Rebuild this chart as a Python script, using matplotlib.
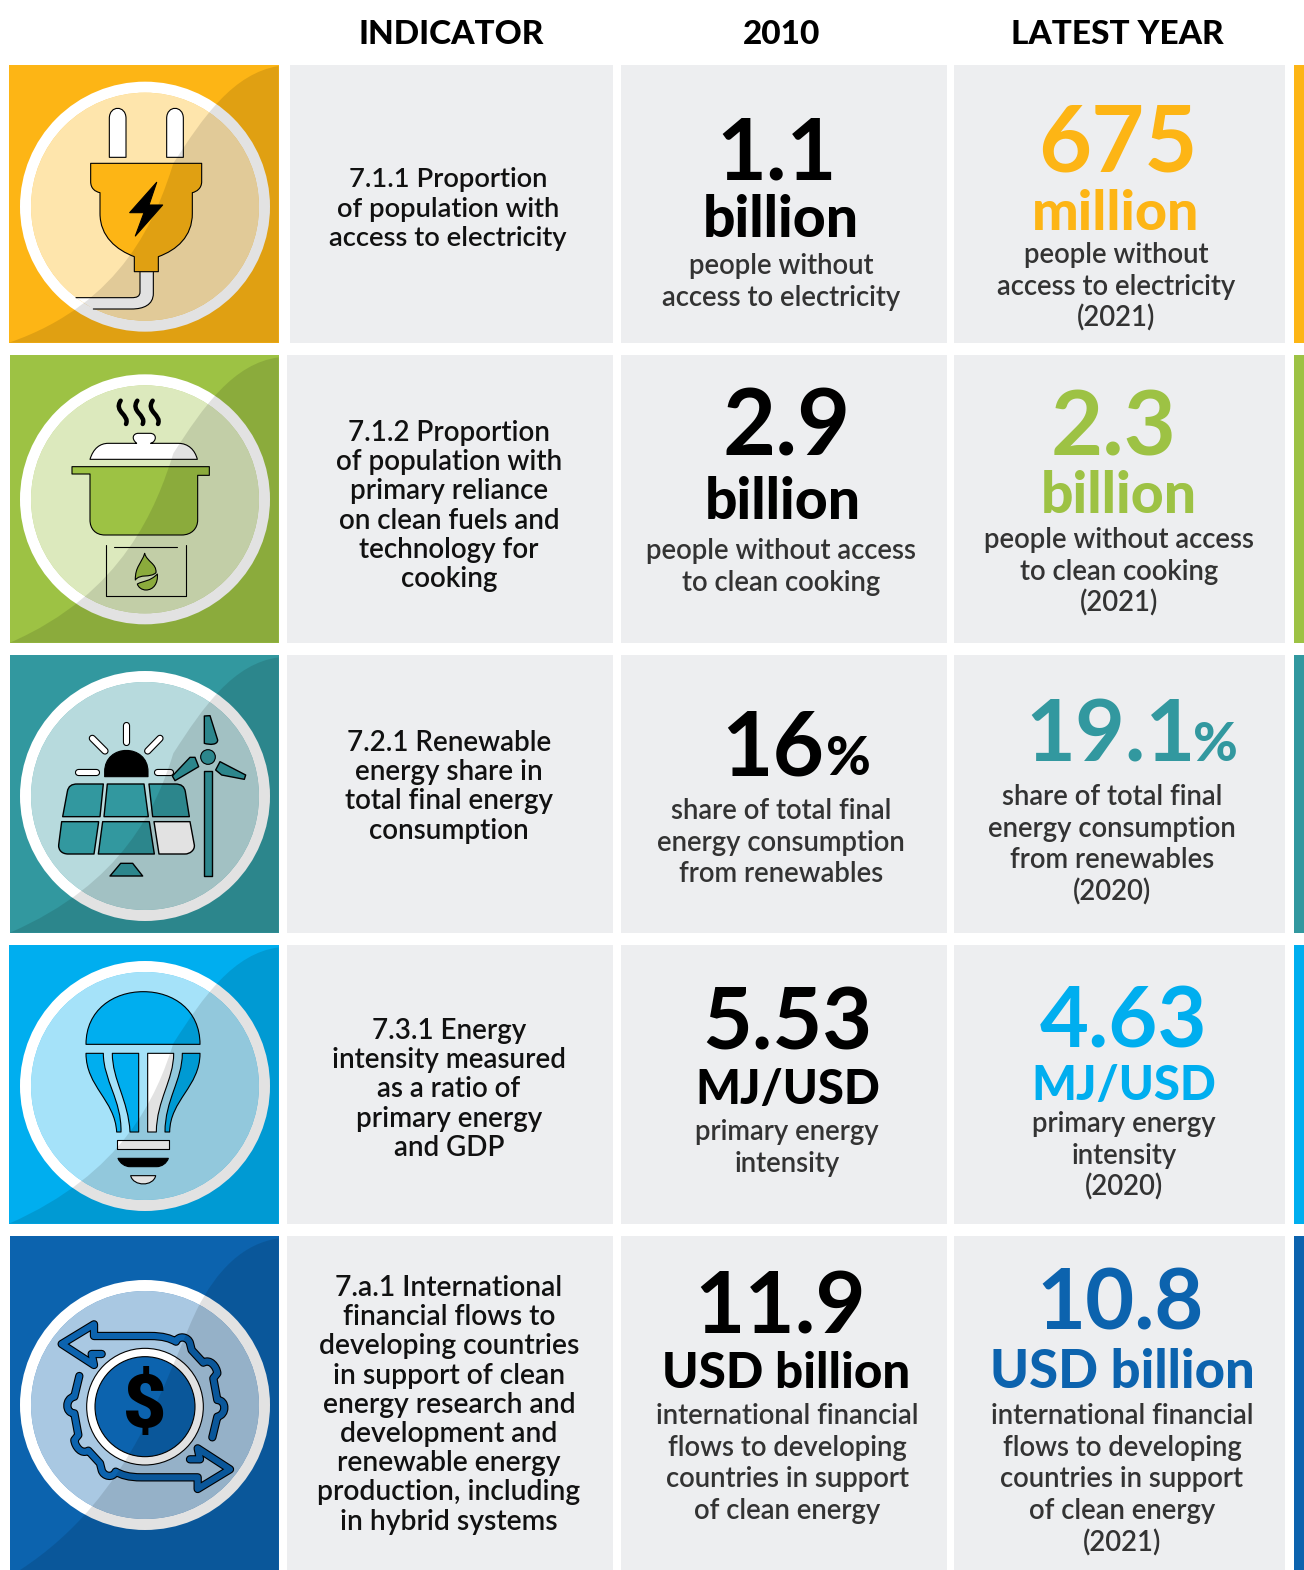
import matplotlib
matplotlib.use('Agg')
import matplotlib.pyplot as plt
from matplotlib.path import Path
from matplotlib.patches import PathPatch, Rectangle, Circle

# Таблиця: заголовки та тексти
headers = ['INDICATOR', '2010', 'LATEST YEAR']

indicators = [
    ['7.1.1 Proportion', 'of population with', 'access to electricity'],
    ['7.1.2 Proportion', 'of population with', 'primary reliance', 'on clean fuels and', 'technology for', 'cooking'],
    ['7.2.1 Renewable', 'energy share in', 'total final energy', 'consumption'],
    ['7.3.1 Energy', 'intensity measured', 'as a ratio of', 'primary energy', 'and GDP'],
    ['7.a.1 International', 'financial flows to', 'developing countries', 'in support of clean', 'energy research and',
     'development and', 'renewable energy', 'production, including', 'in hybrid systems'],
]

values_2010 = ['1.1', '2.9', '16', '5.53', '11.9']
units_2010 = ['billion', 'billion', '%', 'MJ/USD', 'USD billion']
notes_2010 = [
    ['people without', 'access to electricity'],
    ['people without access', 'to clean cooking'],
    ['share of total final', 'energy consumption', 'from renewables'],
    ['primary energy', 'intensity'],
    ['international financial', 'flows to developing', 'countries in support', 'of clean energy'],
]

values_latest = ['675', '2.3', '19.1', '4.63', '10.8']
units_latest = ['million', 'billion', '%', 'MJ/USD', 'USD billion']
notes_latest = [
    ['people without', 'access to electricity', '(2021)'],
    ['people without access', 'to clean cooking', '(2021)'],
    ['share of total final', 'energy consumption', 'from renewables', '(2020)'],
    ['primary energy', 'intensity', '(2020)'],
    ['international financial', 'flows to developing', 'countries in support', 'of clean energy', '(2021)'],
]

row_colors = ['#FDB515', '#9DC244', '#32989F', '#00AEEF', '#0C63AE']

# Розміщення рядків у пікселях
row_tops = [65, 355, 655, 945, 1236]
row_bottoms = [343, 643, 933, 1224, 1570]
tile_left = [9, 10, 10, 9, 10]
zoom_y = [50, 350, 650, 940, 1230]

ind_x = [448, 449, 449, 449, 449]
ind_y = [180, 433, 743, 1031, 1288]
ind_sizes = [19.7, 20, 20, 20, 20.3]

big_2010 = [(777, 180), (787, 455), (773, 775), (787, 1049), (780, 1334)]
unit_2010 = [(781, 237), (783, 519), (848, 775), (788, 1104), (786, 1388)]
note_2010 = [(781, 266), (781, 551), (781, 811), (787, 1132), (787, 1416)]
big_sizes_2010 = [62, 66, 64, 62, 62.5]
unit_sizes_2010 = [41, 41, 39, 34, 35.5]

big_latest = [(1118, 172), (1114, 455), (1111, 761), (1124, 1047), (1120, 1329)]
unit_latest = [(1116, 230), (1119, 513), (1215, 761), (1124, 1100), (1122, 1388)]
note_latest = [(1116, 255), (1119, 540), (1112, 797), (1124, 1124), (1122, 1416)]
big_sizes_latest = [66, 65, 62, 61, 61]
unit_sizes_latest = [40, 41, 39, 34, 37.8]

W, H = 1304, 1570
plt.rcParams['font.family'] = ['Lato', 'DejaVu Sans']

fig = plt.figure(figsize=(W / 100, H / 100), dpi=100)
ax = fig.add_axes([0, 0, 1, 1])
ax.set_xlim(0, W)
ax.set_ylim(H, 0)
ax.axis('off')


def make_path(s, oy):
    # Простий розбір рядка M/L/C/Z; координати з кропа (масштаб 3x)
    verts, codes = [], []
    toks = s.split()
    i = 0
    while i < len(toks):
        t = toks[i]
        if t == 'Z':
            verts.append((0, 0))
            codes.append(Path.CLOSEPOLY)
            i += 1
        elif t == 'C':
            for k in range(3):
                verts.append((float(toks[i + 1 + 2 * k]) / 3, float(toks[i + 2 + 2 * k]) / 3 + oy))
                codes.append(Path.CURVE4)
            i += 7
        else:
            verts.append((float(toks[i + 1]) / 3, float(toks[i + 2]) / 3 + oy))
            codes.append(Path.MOVETO if t == 'M' else Path.LINETO)
            i += 3
    return Path(verts, codes)


def shape(s, oy, fc='none', ec='black', lw=0.8, z=3):
    p = PathPatch(make_path(s, oy), fc=fc, ec=ec, lw=lw, zorder=z, joinstyle='round', capstyle='round')
    ax.add_patch(p)
    return p


def ray(x0, y0, x1, y1, oy):
    s = f'M {x0} {y0} L {x1} {y1}'
    shape(s, oy, ec='black', lw=5.2)
    shape(s, oy, ec='white', lw=3.6, z=3.1)


def icon_plug(oy, c):
    shape('M 420 667 L 460 667 L 460 730 C 460 765 430 777 395 777 L 280 777 L 228 743 L 395 743 C 410 743 420 740 420 725 Z', oy, fc='white', ec='none')
    shape('M 420 667 L 420 725 C 420 740 410 743 395 743 L 228 743', oy)
    shape('M 460 667 L 460 730 C 460 765 430 777 395 777 L 280 777', oy)
    for x0, x1 in [(328, 378), (500, 550)]:
        shape(f'M {x0} 322 L {x0} 205 C {x0} 165 {x1} 165 {x1} 205 L {x1} 322 Z', oy, fc='white')
    shape('M 272 340 L 605 340 L 605 395 C 605 415 590 425 577 428 L 577 490 C 577 560 530 600 475 620 L 475 665 L 403 665 L 403 620 C 350 600 300 560 300 490 L 300 428 C 285 425 272 415 272 395 Z', oy, fc=c)
    shape('M 470 397 L 389 488 L 432 488 L 406 558 L 488 465 L 447 465 Z', oy, fc='black')


def icon_pot(oy, c):
    for s in ['M 362 152 C 340 185 390 195 378 222', 'M 412 152 C 390 185 440 195 428 222', 'M 458 152 C 436 185 486 195 474 222']:
        shape(s, oy, lw=3.2)
    shape('M 270 328 C 280 295 300 280 325 280 L 410 280 C 392 265 400 250 415 250 L 450 250 C 472 250 470 275 452 280 L 535 280 C 565 280 585 300 592 328 Z', oy, fc='white')
    shape('M 216 350 L 628 350 L 628 376 L 593 376 L 593 510 C 593 535 575 555 545 555 L 315 555 C 285 555 270 535 270 510 L 270 372 L 216 372 Z', oy, fc=c)
    shape('M 317 585 L 317 739 L 559 739 L 559 585', oy)
    shape('M 342 592 L 532 592', oy)
    shape('M 434 610 C 425 640 405 650 406 690 C 420 670 450 685 468 668 C 470 640 440 635 434 610 Z', oy, fc=c)
    shape('M 412 702 C 430 692 450 695 472 672 C 475 700 460 720 438 720 C 425 720 415 712 412 702 Z', oy, fc=c)


def icon_solar(oy, c):
    for r in [(378, 225, 378, 275), (277, 265, 315, 303), (480, 265, 443, 303), (235, 367, 287, 367), (472, 367, 510, 367)]:
        ray(*r, oy)
    shape('M 314 380 L 314 365 C 314 280 444 280 444 365 L 444 380 Z', oy, fc='black')
    panels = [
        'M 188 500 L 202 425 C 205 408 215 402 232 402 L 310 402 L 300 500 Z',
        'M 322 402 L 432 402 L 445 500 L 312 500 Z',
        'M 447 402 L 525 402 C 545 402 553 410 556 425 L 568 500 L 458 500 Z',
        'M 185 515 L 296 515 L 282 612 L 205 612 C 185 612 175 600 176 585 Z',
        'M 308 515 L 448 515 L 463 612 L 295 612 Z',
        'M 330 678 L 362 640 L 398 640 L 428 678 Z',
        'M 612 362 L 637 362 L 637 678 L 612 678 Z',
        'M 613 198 L 630 197 L 653 270 C 653 285 630 285 613 280 Z',
        'M 517 378 L 570 322 L 585 322 L 596 350 L 525 392 Z',
        'M 660 335 L 737 375 L 733 388 L 665 375 L 647 360 Z',
    ]
    for s in panels:
        shape(s, oy, fc=c, lw=1.0)
    shape('M 462 515 L 570 515 L 583 585 C 585 600 570 612 555 612 L 477 612 Z', oy, fc='white', lw=1.0)
    ax.add_patch(Circle((624 / 3, 321 / 3 + oy), 22 / 3, fc=c, ec='black', lw=0.8, zorder=3))


def icon_bulb(oy, c):
    shape('M 258 313 C 258 210 340 155 430 155 C 520 155 600 210 600 313 Z', oy, fc=c)
    shape('M 258 340 L 310 340 C 310 420 365 480 363 576 L 350 576 C 345 480 258 440 258 340 Z', oy, fc=c)
    shape('M 337 340 L 416 340 L 416 576 L 390 576 C 385 480 337 420 337 340 Z', oy, fc=c)
    shape('M 443 340 L 521 340 C 521 420 470 480 469 576 L 443 576 Z', oy, fc='white')
    shape('M 547 340 L 600 340 C 600 440 510 480 509 576 L 495 576 C 495 480 547 420 547 340 Z', oy, fc=c)
    shape('M 350 601 L 508 601 L 508 628 L 350 628 Z', oy, fc='white')
    shape('M 354 655 L 505 655 C 500 670 485 680 470 680 L 390 680 C 375 680 360 670 354 655 Z', oy, fc='black')
    shape('M 392 707 L 467 707 C 460 740 400 740 392 707 Z', oy, fc='white')


def icon_money(oy, c):
    top = 'M 305 372 L 275 372 L 282 405 L 185 342 L 282 283 L 282 318 L 450 318 C 490 318 510 325 528 335 C 535 315 565 320 570 340 L 575 360 L 610 398 C 630 385 650 410 652 430 L 640 445 L 652 510 C 680 510 680 555 652 560 L 637 622'
    bottom = 'M 570 688 L 600 688 L 593 655 L 690 718 L 593 777 L 593 742 L 425 742 C 385 742 365 735 347 725 C 340 745 310 740 305 720 L 300 700 L 265 662 C 245 675 225 650 223 630 L 235 615 L 223 550 C 195 550 195 505 223 500 L 238 438'
    for s in [top, bottom]:
        shape(s, oy, ec='black', lw=6.0)
        shape(s, oy, ec=c, lw=4.4, z=3.1)
    ax.add_patch(Circle((435 / 3, 530 / 3 + oy), 175 / 3, fc='white', ec='black', lw=0.8, zorder=3))
    ax.add_patch(Circle((435 / 3, 530 / 3 + oy), 150 / 3, fc=c, ec='black', lw=0.8, zorder=3))
    ax.text(435 / 3, 530 / 3 + oy, '$', fontsize=54, fontweight='black', color='black', ha='center', va='center', zorder=4, family='Roboto')


icons = [icon_plug, icon_pot, icon_solar, icon_bulb, icon_money]

# Темні смуги-вигини поверх плиток
shadows = [
    'M 836 48 C 700 70 610 200 520 340 C 470 500 370 760 27 878 L 836 878 Z',
    'M 836 22 C 700 40 610 170 520 310 C 470 470 370 730 30 878 L 836 878 Z',
    'M 836 22 C 700 40 610 170 520 310 C 470 470 370 700 30 848 L 836 848 Z',
    'M 836 22 C 700 40 610 170 520 310 C 470 470 370 700 27 851 L 836 851 Z',
    'M 836 25 C 730 40 650 120 590 240 C 500 430 400 800 60 1020 L 836 1020 Z',
]
circle_y = [470, 448, 438, 438, 525]


def text_lines(x, y0, lines, step, size, color, weight='semibold'):
    for i, line in enumerate(lines):
        ax.text(x, y0 + i * step, line, fontsize=size, color=color, fontweight=weight, ha='center', va='center')


# Заголовки
for hx, h in zip([451, 782, 1117], headers):
    ax.text(hx, 35, h, fontsize=24, fontweight='black', color='black', ha='center', va='center')

for i in range(5):
    top, bot = row_tops[i], row_bottoms[i]
    c = row_colors[i]
    oy = zoom_y[i]
    left = tile_left[i]

    # Плитка з кругом та іконкою
    ax.add_patch(Rectangle((left, top), 279 - left, bot - top, fc=c, ec='none', zorder=1))
    cx, cy = 435 / 3, circle_y[i] / 3 + oy
    ax.add_patch(Circle((cx, cy), 125, fc='white', ec='none', zorder=2))
    ax.add_patch(Circle((cx, cy), 114, fc=c, ec='none', zorder=2.1))
    ax.add_patch(Circle((cx, cy), 114, fc='white', alpha=0.65, ec='none', zorder=2.2))
    icons[i](oy, c)
    shape(shadows[i], oy, fc='black', ec='none', z=5).set_alpha(0.115)

    # Сірі комірки та кольорова смужка
    ind_left = 290 if i == 0 else 287
    ax.add_patch(Rectangle((ind_left, top), 613 - ind_left, bot - top, fc='#EDEEF0', ec='none', zorder=1))
    ax.add_patch(Rectangle((621, top), 326, bot - top, fc='#EDEEF0', ec='none', zorder=1))
    ax.add_patch(Rectangle((954, top), 331, bot - top, fc='#EDEEF0', ec='none', zorder=1))
    ax.add_patch(Rectangle((1294, top), 10, bot - top, fc=c, ec='none', zorder=1))

    text_lines(ind_x[i], ind_y[i], indicators[i], 29.2, ind_sizes[i], '#111111')

    # Стовпець 2010
    x, y = big_2010[i]
    ax.text(x, y, values_2010[i], fontsize=big_sizes_2010[i], fontweight='bold', color='black', ha='center', va='baseline')
    x, y = unit_2010[i]
    ax.text(x, y, units_2010[i], fontsize=unit_sizes_2010[i], fontweight='black', color='black', ha='center', va='baseline')
    x, y = note_2010[i]
    text_lines(x, y, notes_2010[i], 31.7, 19.8, '#333333')

    # Стовпець останнього року
    x, y = big_latest[i]
    ax.text(x, y, values_latest[i], fontsize=big_sizes_latest[i], fontweight='bold', color=c, ha='center', va='baseline')
    x, y = unit_latest[i]
    ax.text(x, y, units_latest[i], fontsize=unit_sizes_latest[i], fontweight='black', color=c, ha='center', va='baseline')
    x, y = note_latest[i]
    text_lines(x, y, notes_latest[i], 31.7, 19.8, '#333333')

fig.savefig('out.png', dpi=100)
